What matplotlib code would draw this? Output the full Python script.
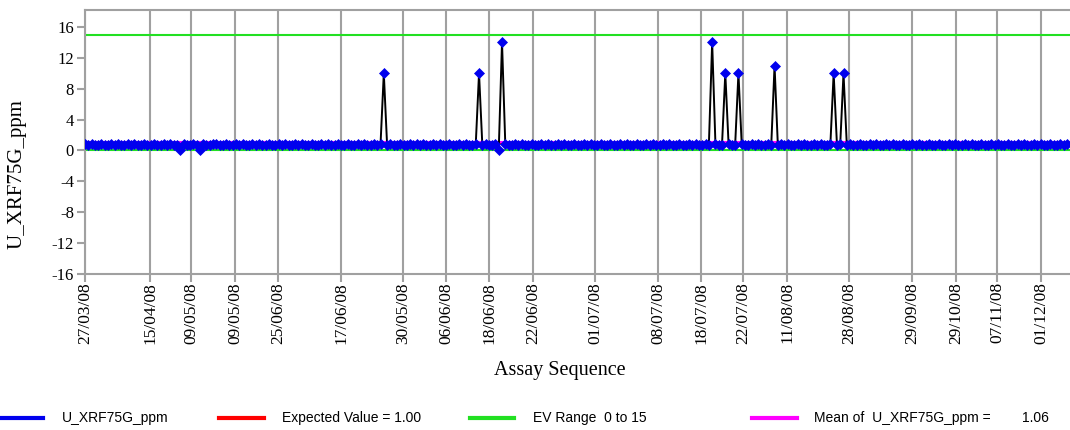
import matplotlib
matplotlib.use("Agg")
import matplotlib.pyplot as plt
from matplotlib.lines import Line2D
import numpy as np

# ---- data ----
u_ppm = [
    0.8, 0.75, 0.8, 0.7, 0.75, 0.8, 0.75, 0.7, 0.8, 0.75, 0.8, 0.7, 0.75, 0.8, 0.75, 0.8, 0.7, 0.75, 0.8, 0.75,
    0.75, 0.8, 0.7, 0.75, 0.8, 0.75, 0.8, 0.7, 0.75, 0.0, 0.8, 0.75, 0.7, 0.8, 0.75, 0.0, 0.8, 0.7, 0.75, 0.8,
    0.8, 0.7, 0.75, 0.8, 0.75, 0.7, 0.8, 0.75, 0.8, 0.7, 0.75, 0.8, 0.75, 0.8, 0.7, 0.75, 0.8, 0.75, 0.7, 0.8,
    0.75, 0.8, 0.75, 0.7, 0.8, 0.75, 0.8, 0.7, 0.75, 0.8, 0.7, 0.75, 0.8, 0.75, 0.8, 0.7, 0.75, 0.8, 0.75, 0.7,
    0.8, 0.75, 0.7, 0.8, 0.75, 0.8, 0.7, 0.75, 0.8, 0.75, 0.8, 10.0, 0.75, 0.8, 0.7, 0.75, 0.8, 0.75, 0.7, 0.8,
    0.7, 0.8, 0.75, 0.8, 0.75, 0.7, 0.8, 0.75, 0.8, 0.7, 0.75, 0.8, 0.75, 0.7, 0.8, 0.75, 0.8, 0.7, 0.75, 0.8,
    10.0, 0.75, 0.8, 0.7, 0.75, 0.8, 0.0, 14.0, 0.8, 0.75, 0.7, 0.8, 0.75, 0.8, 0.7, 0.75, 0.8, 0.75, 0.7, 0.8,
    0.75, 0.8, 0.7, 0.75, 0.8, 0.75, 0.8, 0.7, 0.75, 0.8, 0.7, 0.75, 0.8, 0.75, 0.8, 0.7, 0.75, 0.8, 0.75, 0.7,
    0.8, 0.7, 0.75, 0.8, 0.75, 0.8, 0.7, 0.75, 0.8, 0.75, 0.7, 0.8, 0.75, 0.8, 0.7, 0.75, 0.8, 0.75, 0.8, 0.7,
    0.75, 0.8, 0.75, 0.7, 0.8, 0.75, 0.8, 0.7, 0.75, 0.8, 0.75, 14.0, 0.8, 0.7, 0.75, 10.0, 0.8, 0.75, 0.7, 10.0,
    0.8, 0.75, 0.7, 0.8, 0.75, 0.8, 0.7, 0.75, 0.8, 0.75, 11.0, 0.7, 0.8, 0.75, 0.8, 0.7, 0.75, 0.8, 0.75, 0.8,
    0.7, 0.75, 0.8, 0.75, 0.8, 0.7, 0.75, 0.8, 10.0, 0.75, 0.8, 10.0, 0.75, 0.8, 0.7, 0.75, 0.8, 0.75, 0.7, 0.8,
    0.75, 0.8, 0.7, 0.75, 0.8, 0.75, 0.8, 0.7, 0.75, 0.8, 0.7, 0.75, 0.8, 0.75, 0.8, 0.7, 0.75, 0.8, 0.75, 0.7,
    0.8, 0.75, 0.7, 0.8, 0.75, 0.8, 0.7, 0.75, 0.8, 0.75, 0.8, 0.7, 0.75, 0.8, 0.75, 0.7, 0.8, 0.75, 0.8, 0.7,
    0.75, 0.8, 0.75, 0.7, 0.8, 0.75, 0.8, 0.7, 0.75, 0.8, 0.75, 0.8, 0.7, 0.75, 0.8, 0.75, 0.7, 0.8, 0.75, 0.8,
]
tick_positions = [0, 19.8, 32.3, 45.7, 58.8, 78.0, 96.9, 110.0, 123.1, 136.5,
                  155.3, 174.5, 187.6, 200.4, 213.8, 232.7, 251.9, 265.3, 277.8, 291.2]
tick_labels = ["27/03/08", "15/04/08", "09/05/08", "09/05/08", "25/06/08", "17/06/08",
               "30/05/08", "06/06/08", "18/06/08", "22/06/08", "01/07/08", "08/07/08",
               "18/07/08", "22/07/08", "11/08/08", "28/08/08", "29/09/08", "29/10/08",
               "07/11/08", "01/12/08"]
expected_value = 1.00
ev_range = [0, 15]
mean_value = 1.06
y_ticks = [-16, -12, -8, -4, 0, 4, 8, 12, 16]

# ---- figure ----
W, H = 1070, 430
fig = plt.figure(figsize=(W / 100, H / 100), dpi=100)
ax = fig.add_axes([85 / W, 1 - 274 / H, (1075 - 85) / W, (274 - 10) / H])

grey = "#a0a0a0"
serif = ["Liberation Serif", "DejaVu Serif"]
sans = ["Liberation Sans", "DejaVu Sans"]

x = np.arange(len(u_ppm))
ax.axhline(ev_range[1], color="#22e022", lw=1.5, zorder=2)
ax.axhline(ev_range[0], color="#22e022", lw=1.5, zorder=2)
ax.axhline(expected_value, color="red", lw=1.5, zorder=1.5)
ax.axhline(mean_value, color="magenta", lw=1.5, zorder=1.6)
ax.plot(x, u_ppm, color="black", lw=1.4, zorder=3)
ax.plot(x, u_ppm, ls="none", marker="D", ms=5, color="#0000ee", mec="#0000ee",
        mew=0.5, zorder=4)

ax.set_xlim(0, 301.5)
ax.set_ylim(-16, 18.2)
ax.set_yticks(y_ticks)
ax.set_yticklabels([str(v) for v in y_ticks], family=serif, fontsize=12)
ax.set_xticks(tick_positions)
ax.set_xticklabels(tick_labels, rotation=90, family=serif, fontsize=12.5)
ax.grid(axis="x", color=grey, lw=1.5, zorder=1)
ax.set_axisbelow(True)
ax.tick_params(axis="both", color=grey, width=1.5, length=6, direction="out", pad=2)
ax.tick_params(axis="x", pad=0)

for side in ["left", "top", "bottom"]:
    ax.spines[side].set_color(grey)
    ax.spines[side].set_linewidth(1.5)
ax.spines["right"].set_visible(False)

fig.text(17 / W, 1 - 174 / H, "U_XRF75G_ppm", family=serif, fontsize=15,
         rotation=90, ha="center", va="center")
fig.text(560 / W, 1 - 370 / H, "Assay Sequence", family=serif, fontsize=14.5,
         ha="center", va="center")

# ---- legend row ----
ly = 1 - 418 / H
items = [
    (0, 43, 62, "#0000ee", "U_XRF75G_ppm"),
    (219, 264, 282, "red", "Expected Value = 1.00"),
    (470, 514, 533, "#22e022", "EV Range  0 to 15"),
    (752, 797, 814, "magenta", "Mean of  U_XRF75G_ppm ="),
]
for x0, x1, tx, col, lab in items:
    fig.add_artist(Line2D([x0 / W, x1 / W], [ly, ly], color=col, lw=3,
                          transform=fig.transFigure))
    fig.text(tx / W, ly, lab, family=sans, fontsize=10, ha="left", va="center")
fig.text(1049 / W, ly, f"{mean_value:.2f}", family=sans, fontsize=10, ha="right", va="center")

fig.savefig("out.png", dpi=100)
